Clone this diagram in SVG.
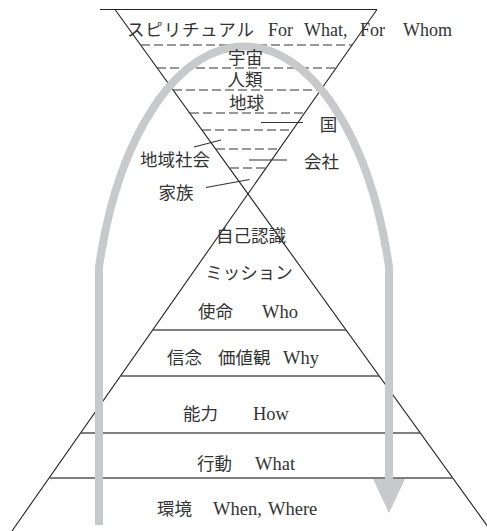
<svg xmlns="http://www.w3.org/2000/svg" width="487" height="531" viewBox="0 0 487 531">
<style>
.edge{stroke:#222;stroke-width:1.1;fill:none}
.hl{stroke:#555;stroke-width:1.3;fill:none}
.dash{stroke:#333;stroke-width:1.2;stroke-dasharray:9 4;fill:none}
.lead{stroke:#333;stroke-width:1.1;fill:none}
.jp{font-family:"Noto Sans CJK JP","Noto Sans",sans-serif;font-size:17.5px;fill:#333}
.en{font-family:"Liberation Serif",serif;font-size:18.5px;fill:#333}
.top{font-size:18px}
.c{text-anchor:middle}
.arc{stroke:#c8c9cb;stroke-width:8;fill:none}
</style>
<rect width="487" height="531" fill="#fff"/>
<g id="frame">
<line class="edge" x1="100" y1="9.5" x2="377" y2="9.5"/>
<line class="edge" x1="115" y1="9.5" x2="491" y2="531"/>
<line class="edge" x1="377" y1="9.5" x2="12" y2="531"/>
<line class="dash" x1="141" y1="45" x2="352" y2="45"/>
<line class="dash" x1="157" y1="68" x2="336" y2="68"/>
<line class="dash" x1="173" y1="90" x2="320" y2="90"/>
<line class="dash" x1="190" y1="113" x2="304" y2="113"/>
<line class="dash" x1="202" y1="130" x2="292" y2="130"/>
<line class="dash" x1="216" y1="149" x2="279" y2="149"/>
<line class="dash" x1="230" y1="168" x2="266" y2="168"/>
<line class="hl" x1="153" y1="330" x2="346" y2="330"/>
<line class="hl" x1="121" y1="376" x2="379" y2="376"/>
<line class="hl" x1="81" y1="433" x2="420" y2="433"/>
<line class="hl" x1="50" y1="478" x2="453" y2="478"/>
</g>
<g id="flow">
<path class="arc" d="M99 525 L99 267 A151 306 0 0 1 389 267 L389 480"/>
<polygon points="373,479 405,479 389,513" fill="#c8c9cb"/>
</g>
<g id="connectors">
<line class="lead" x1="261" y1="122.5" x2="303" y2="122.5"/>
<line class="lead" x1="249" y1="160" x2="287" y2="160"/>
<line class="lead" x1="194" y1="147" x2="221" y2="140"/>
<line class="lead" x1="206" y1="187.5" x2="249.5" y2="179.5"/>
</g>
<g id="spiritual"><text class="jp" x="127" y="36" textLength="127" lengthAdjust="spacing">スピリチュアル</text><text class="en top" x="268" y="36">For</text><text class="en top" x="304" y="36">What,</text><text class="en top" x="360" y="36">For</text><text class="en top" x="403" y="36">Whom</text></g>
<g id="uchu"><text class="jp c" x="245.5" y="63.5">宇宙</text></g>
<g id="jinrui"><text class="jp c" x="245" y="85.5">人類</text></g>
<g id="chikyu"><text class="jp c" x="246.5" y="108.5">地球</text></g>
<g id="kuni"><text class="jp c" x="328.5" y="130.5">国</text></g>
<g id="chiiki"><text class="jp c" x="175" y="165.5">地域社会</text></g>
<g id="kaisha"><text class="jp c" x="321.5" y="168">会社</text></g>
<g id="kazoku"><text class="jp c" x="176" y="199">家族</text></g>
<g id="jiko"><text class="jp c" x="251" y="241.5">自己認識</text></g>
<g id="mission"><text class="jp c" x="249" y="279">ミッション</text></g>
<g id="shimei"><text class="jp" x="198" y="318">使命</text><text class="en" x="262" y="318">Who</text></g>
<g id="shinnen"><text class="jp" x="167" y="364">信念</text><text class="jp" x="218" y="364">価値観</text><text class="en" x="283" y="364">Why</text></g>
<g id="noryoku"><text class="jp" x="183" y="420">能力</text><text class="en" x="253" y="420">How</text></g>
<g id="kodo"><text class="jp" x="197" y="470">行動</text><text class="en" x="255" y="470">What</text></g>
<g id="kankyo"><text class="jp" x="157" y="515">環境</text><text class="en" x="213" y="515">When,</text><text class="en" x="268" y="515">Where</text></g>
</svg>
